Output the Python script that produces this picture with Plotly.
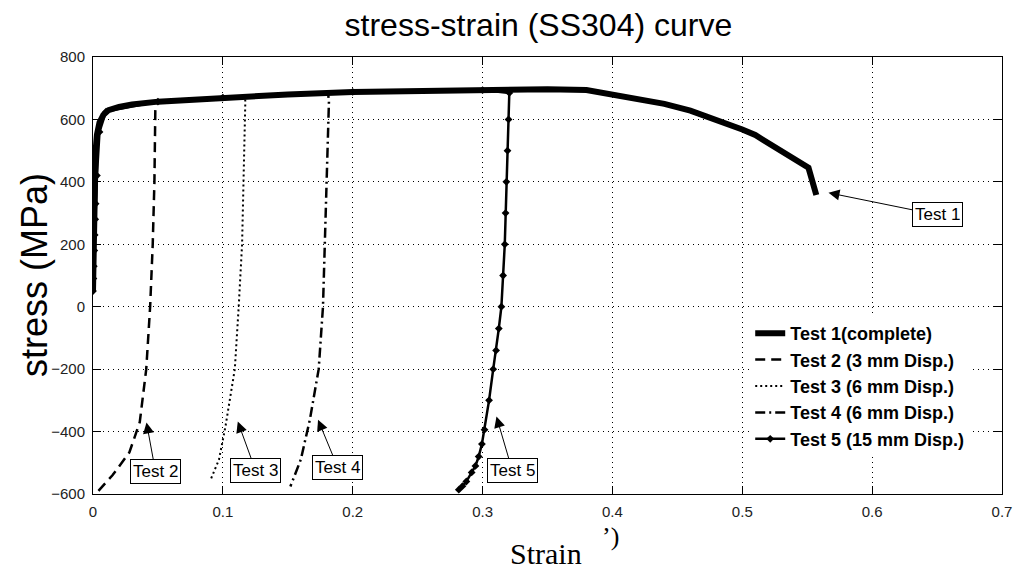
import plotly.graph_objects as go

# ---------------- data ----------------
t1_strain = [0.0, 0.0005, 0.001, 0.0015, 0.002, 0.003, 0.005, 0.008, 0.012, 0.02, 0.03, 0.05,
             0.1, 0.15, 0.2, 0.25, 0.3, 0.35, 0.38, 0.4, 0.42, 0.44, 0.46, 0.48, 0.5, 0.51,
             0.53, 0.545, 0.551, 0.557]
t1_stress = [50, 200, 330, 430, 500, 550, 590, 615, 630, 640, 648, 657,
             670, 680, 688, 692, 695, 697, 694, 680, 668, 650, 628, 600, 568, 550,
             496, 461, 445, 358]

t2_strain = [0.0, 0.001, 0.002, 0.005, 0.01, 0.02, 0.03, 0.04, 0.0475, 0.048, 0.0473, 0.046,
             0.044, 0.041, 0.036, 0.028, 0.015, 0.002]
t2_stress = [50, 330, 500, 590, 625, 640, 648, 654, 657, 634, 400, 200,
             0, -200, -370, -467, -540, -600]

t3_strain = [0.0, 0.001, 0.002, 0.005, 0.01, 0.02, 0.05, 0.1, 0.117, 0.1173, 0.116, 0.1148,
             0.1122, 0.1092, 0.102, 0.097, 0.091]
t3_stress = [50, 330, 500, 590, 625, 640, 657, 670, 674, 657, 400, 200,
             0, -200, -384, -490, -550]

t4_strain = [0.0, 0.001, 0.002, 0.005, 0.01, 0.02, 0.05, 0.1, 0.15, 0.181, 0.1817, 0.180,
             0.1789, 0.1771, 0.1738, 0.167, 0.160, 0.152]
t4_stress = [50, 330, 500, 590, 625, 640, 657, 670, 680, 685, 657, 400,
             200, 0, -200, -362, -490, -576]

t5_strain = [0.0, 0.0003, 0.0006, 0.001, 0.0013, 0.0017, 0.002, 0.003, 0.005, 0.01, 0.05,
             0.1, 0.2, 0.3, 0.3206, 0.320, 0.3192, 0.3183, 0.3177, 0.3171, 0.3158, 0.3145,
             0.3125, 0.3104, 0.3082, 0.305, 0.3015, 0.2995, 0.297, 0.2945, 0.2916, 0.2875,
             0.2845, 0.2817]
t5_stress = [50, 90, 130, 180, 230, 280, 330, 420, 560, 625, 657,
             670, 688, 694, 685, 600, 500, 400, 300, 200, 100, 0,
             -70, -140, -200, -300, -394, -440, -480, -510, -531, -560,
             -575, -586]

legend_names = ["Test 1(complete)", "Test 2 (3 mm Disp.)", "Test 3 (6 mm Disp.)",
                "Test 4 (6 mm Disp.)", "Test 5 (15 mm Disp.)"]

# annotation: label, head (x, y), box centre (x, y)
ann_labels = ["Test 1", "Test 2", "Test 3", "Test 4", "Test 5"]
ann_head_x = [0.5664, 0.0412, 0.1115, 0.1733, 0.3107]
ann_head_y = [365, -371, -368, -362, -352]
ann_box_x = [0.6504, 0.0481, 0.1252, 0.1885, 0.3229]
ann_box_y = [294, -528, -525, -515, -525]

x_ticks = [0, 0.1, 0.2, 0.3, 0.4, 0.5, 0.6, 0.7]
x_ticktext = ["0", "0.1", "0.2", "0.3", "0.4", "0.5", "0.6", "0.7"]
y_ticks = [-600, -400, -200, 0, 200, 400, 600, 800]

# ---------------- figure ----------------
SANS = "Liberation Sans, Arial, sans-serif"
SERIF = "Liberation Serif, Times New Roman, serif"

fig = go.Figure()
fig.add_trace(go.Scatter(x=t1_strain, y=t1_stress, mode="lines", name=legend_names[0],
                         line=dict(color="black", width=6)))
fig.add_trace(go.Scatter(x=t2_strain, y=t2_stress, mode="lines", name=legend_names[1],
                         line=dict(color="black", width=2.5, dash="10px,6px")))
fig.add_trace(go.Scatter(x=t3_strain, y=t3_stress, mode="lines", name=legend_names[2],
                         line=dict(color="black", width=2, dash="2px,3px")))
fig.add_trace(go.Scatter(x=t4_strain, y=t4_stress, mode="lines", name=legend_names[3],
                         line=dict(color="black", width=2.5, dash="10px,4px,2px,4px")))
fig.add_trace(go.Scatter(x=t5_strain, y=t5_stress, mode="lines+markers", name=legend_names[4],
                         line=dict(color="black", width=2.5),
                         marker=dict(symbol="diamond", size=6, color="black")))

for lab, hx, hy, bx, by in zip(ann_labels, ann_head_x, ann_head_y, ann_box_x, ann_box_y):
    fig.add_annotation(x=hx, y=hy, ax=bx, ay=by, xref="x", yref="y", axref="x", ayref="y",
                       text=lab, showarrow=True, arrowhead=2, arrowsize=2.2, arrowwidth=1,
                       arrowcolor="black", bordercolor="black", borderwidth=1, borderpad=2,
                       bgcolor="white", font=dict(family=SANS, size=17, color="black"))

# axis titles
fig.add_annotation(text="stress (MPa)", xref="paper", yref="paper", x=(34 - 93) / 917, y=0.5,
                   textangle=-90, showarrow=False, xanchor="center", yanchor="middle",
                   font=dict(family=SANS, size=36, color="black"))
fig.add_annotation(text="Strain", xref="paper", yref="paper", x=(550 - 93) / 917,
                   y=(494 - 553) / 437, showarrow=False, xanchor="center", yanchor="middle",
                   font=dict(family=SERIF, size=30, color="black"))
fig.add_annotation(text="\u2019)", xref="paper", yref="paper", x=(615 - 93) / 917,
                   y=(494 - 536) / 437, showarrow=False, xanchor="center", yanchor="middle",
                   font=dict(family=SERIF, size=26, color="black"))

axis_common = dict(showline=True, linecolor="black", linewidth=1, mirror="allticks",
                   ticks="inside", ticklen=8, tickcolor="black", showgrid=True,
                   gridcolor="black", gridwidth=1, griddash="1px,4px", zeroline=False,
                   tickfont=dict(family=SANS, size=15, color="#222222"))

fig.update_xaxes(range=[0, 0.7], tickvals=x_ticks, ticktext=x_ticktext,
                 ticklabelstandoff=4, **axis_common)
fig.update_yaxes(range=[-600, 800], tickvals=y_ticks, ticklabelstandoff=4, **axis_common)

fig.update_layout(
    width=1024, height=569,
    margin=dict(l=93, r=14, t=57, b=75),
    paper_bgcolor="white", plot_bgcolor="white",
    title=dict(text="stress-strain (SS304) curve", x=0.49, xref="paper", y=1 - 25 / 569,
               yref="container", xanchor="center", yanchor="middle",
               font=dict(family=SANS, size=32, color="black")),
    legend=dict(x=(756 - 93) / 917, y=(494 - 315) / 437, xanchor="left", yanchor="top",
                bgcolor="white", borderwidth=0, tracegroupgap=0,
                font=dict(family=SANS, size=18, color="black", weight="bold")),
    showlegend=True,
)

fig.write_html("out.html")
